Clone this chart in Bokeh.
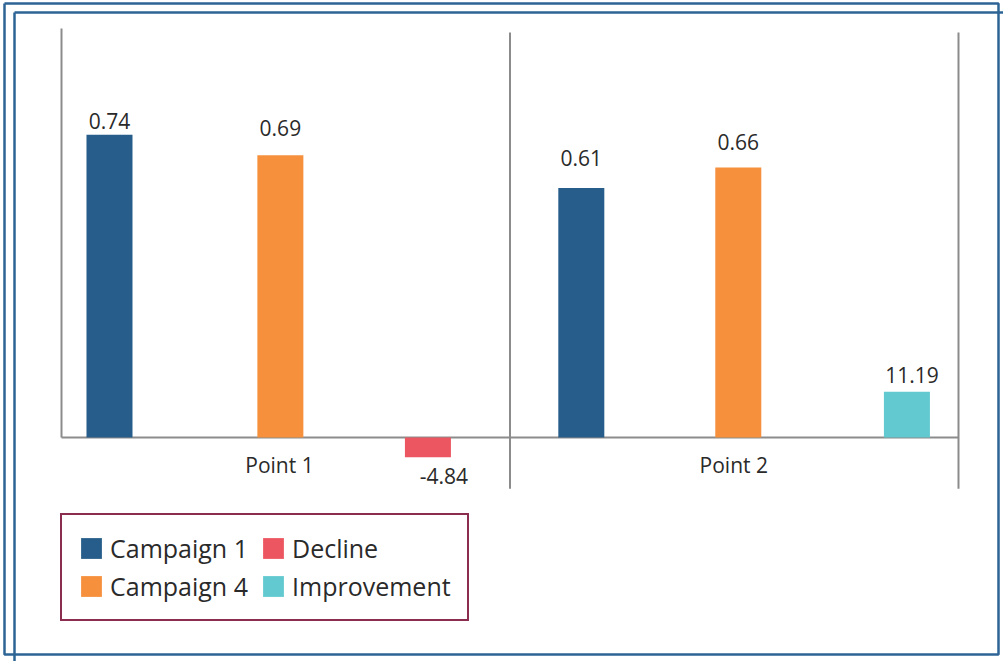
from bokeh.plotting import figure
from bokeh.models import Range1d, ColumnDataSource, Legend, LegendItem, LabelSet
from bokeh.core.properties import value
from bokeh.embed import file_html
from bokeh.resources import INLINE

# ---- data -------------------------------------------------------------
points = ["Point 1", "Point 2"]
campaign_1 = [0.74, 0.61]          # share, 0..1
campaign_4 = [0.69, 0.66]          # share, 0..1
change_pct = [-4.84, 11.19]        # change between the campaigns, in percent

# ---- layout -----------------------------------------------------------
W, H = 1003, 661
X0, X_UNIT = 61, 448.5             # left edge of first group / pixels per group
BASE_Y, PX_PER_SHARE = 437, 409.0  # baseline row / pixels per share unit
BAR_W = 46 / X_UNIT

C1_OFF = [0.107, 0.159]
C4_OFF = [0.488, 0.509]
CHG_OFF = [0.817, 0.885]
C1_LBL_DY = [6, 22]
C4_LBL_DY = [19, 18]
CHG_LBL_DX = {-1: 16, 1: 5}
CHG_LBL_DY = {-1: -27, 1: 9}
POINT_X = [0.486, 0.499]

FONT = "Open Sans"
TEXT_COLOR = "#2a2a2a"
AXIS_COLOR = "#8c8c8c"
FRAME_COLOR = "#2d6495"

C1_COLOR = "#265d8a"
C4_COLOR = "#f6903d"
DECLINE_COLOR = "#ec5661"
IMPROVE_COLOR = "#61c9cf"

share_lo = -(H - BASE_Y) / PX_PER_SHARE
share_hi = BASE_Y / PX_PER_SHARE

p = figure(
    width=W, height=H,
    x_range=Range1d(-X0 / X_UNIT, (W - X0) / X_UNIT),
    y_range=Range1d(share_lo, share_hi),
    output_backend="svg", toolbar_location=None,
    min_border=0, x_axis_type=None, y_axis_type=None,
)
p.extra_y_ranges = {"pct": Range1d(share_lo * 100, share_hi * 100),
                     "px": Range1d(H, 0)}
p.extra_x_ranges = {"px": Range1d(0, W)}
p.xgrid.visible = False
p.ygrid.visible = False
p.outline_line_color = None
p.background_fill_color = "white"
p.border_fill_color = "white"

# ---- decorative double frame (pixel space) ---------------------------
p.multi_line(
    xs=[[4, 998, 998, 4, 4], [14, 14], [14, W]],
    ys=[[3, 3, 654, 654, 3], [12, H], [12, 12]],
    x_range_name="px", y_range_name="px",
    line_color=FRAME_COLOR, line_width=2.5,
)

# ---- axis lines and group dividers ----------------------------------
n = len(points)
p.line([0, n], [0, 0], line_color=AXIS_COLOR, line_width=2)
p.line([0, 0], [0, 1.0], line_color=AXIS_COLOR, line_width=2)
for i in range(1, n + 1):
    p.line([i, i], [-0.125, 0.99], line_color=AXIS_COLOR, line_width=2)

# ---- bars -------------------------------------------------------------
c1_src = ColumnDataSource(dict(
    x=[i + o for i, o in enumerate(C1_OFF)], top=campaign_1,
    label=[f"{v:.2f}" for v in campaign_1], dy=C1_LBL_DY))
c4_src = ColumnDataSource(dict(
    x=[i + o for i, o in enumerate(C4_OFF)], top=campaign_4,
    label=[f"{v:.2f}" for v in campaign_4], dy=C4_LBL_DY))

def change_source(sign):
    idx = [i for i, v in enumerate(change_pct) if (v > 0) == (sign > 0)]
    return ColumnDataSource(dict(
        x=[i + CHG_OFF[i] for i in idx],
        top=[change_pct[i] for i in idx],
        label=[f"{change_pct[i]:.2f}" for i in idx],
        dx=[CHG_LBL_DX[sign]] * len(idx),
        dy=[CHG_LBL_DY[sign]] * len(idx)))

dec_src = change_source(-1)
imp_src = change_source(1)

r_c1 = p.vbar(x="x", top="top", bottom=0, width=BAR_W, source=c1_src,
              fill_color=C1_COLOR, line_color=None)
r_c4 = p.vbar(x="x", top="top", bottom=0, width=BAR_W, source=c4_src,
              fill_color=C4_COLOR, line_color=None)
r_dec = p.vbar(x="x", top="top", bottom=0, width=BAR_W, source=dec_src,
               y_range_name="pct", fill_color=DECLINE_COLOR, line_color=None)
r_imp = p.vbar(x="x", top="top", bottom=0, width=BAR_W, source=imp_src,
               y_range_name="pct", fill_color=IMPROVE_COLOR, line_color=None)

# ---- value labels -----------------------------------------------------
label_style = dict(text_font=value(FONT), text_font_size="21px",
                   text_color=TEXT_COLOR, text_align="center",
                   text_baseline="alphabetic")
for src in (c1_src, c4_src):
    p.add_layout(LabelSet(x="x", y="top", text="label", source=src,
                          y_offset="dy", **label_style))
for src in (dec_src, imp_src):
    p.add_layout(LabelSet(x="x", y="top", text="label", source=src,
                          y_range_name="pct", x_offset="dx", y_offset="dy",
                          **label_style))

# ---- group names ------------------------------------------------------
pt_src = ColumnDataSource(dict(x=[i + o for i, o in enumerate(POINT_X)],
                               y=[0] * n, label=points))
p.add_layout(LabelSet(x="x", y="y", text="label", source=pt_src,
                      y_offset=-35, **label_style))

# ---- legend -----------------------------------------------------------
legend = Legend(
    items=[LegendItem(label="Campaign 1", renderers=[r_c1]),
           LegendItem(label="Campaign 4", renderers=[r_c4]),
           LegendItem(label="Decline", renderers=[r_dec]),
           LegendItem(label="Improvement", renderers=[r_imp])],
    location=(60, 40), orientation="vertical", nrows=2,
    glyph_width=26, glyph_height=26, label_standoff=6, label_width=146,
    padding=16, spacing=4, margin=0,
    label_text_font=FONT, label_text_font_size="25px",
    label_text_color=TEXT_COLOR,
    border_line_color="#8b2d4f", border_line_width=2, border_line_alpha=1.0,
    background_fill_color="white", background_fill_alpha=1.0,
)
p.add_layout(legend, "center")

open("out.html", "w").write(file_html(p, INLINE))
